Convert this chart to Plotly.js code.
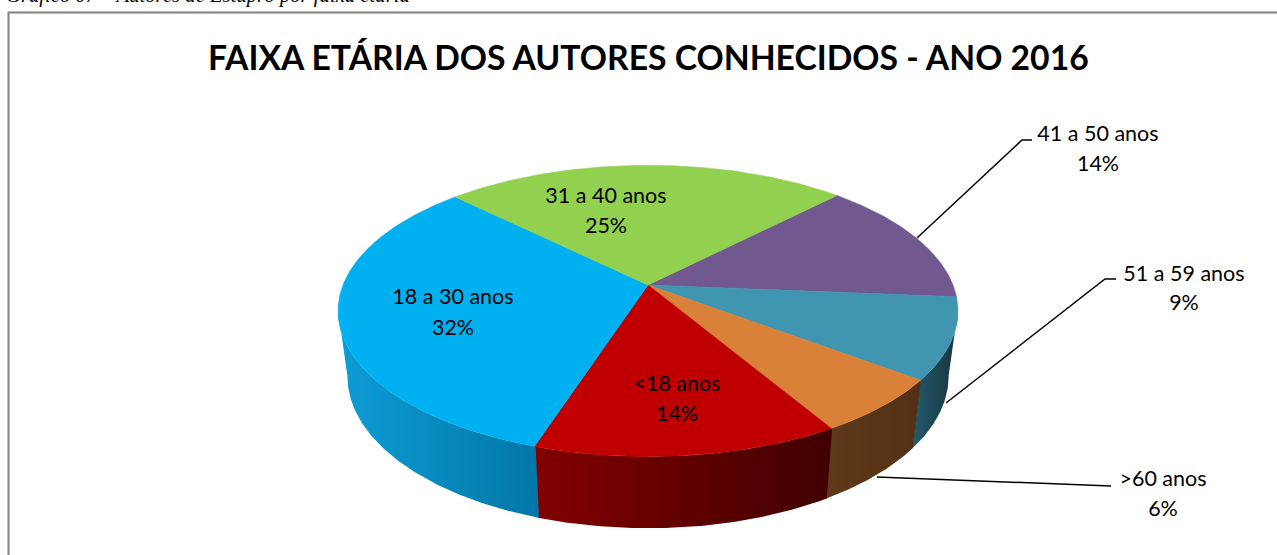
<!DOCTYPE html>
<html>
<head>
<meta charset="utf-8">
<script src="https://cdn.plot.ly/plotly-3.0.1.min.js"></script>
<style>html,body{margin:0;padding:0;background:#fff;overflow:hidden}#chart{width:1277px;height:555px}</style>
</head>
<body>
<div id="chart"></div>
<script>
// Data, clockwise from the purple slice
const categories = ['41 a 50 anos', '51 a 59 anos', '>60 anos', '<18 anos', '18 a 30 anos', '31 a 40 anos'];
const shares = [14, 9, 6.2, 13.5, 32.4, 24.9];
const topColors = ['#71588F', '#4096B0', '#D98039', '#C00000', '#00B0F0', '#92D050'];
const sideStops = [
  ['#553E6E', '#553E6E'], ['#245A6C', '#18343F'], ['#5E3A1A', '#533014'],
  ['#830000', '#400000'], ['#0E9DD6', '#0176A6'], ['#6F9E3C', '#6F9E3C']
];
const percentLabels = shares.map(v => Math.round(v) + '%');
const labelX = [1098, 1184, 1163, 677, 453, 606];
const labelY = [136, 276, 481, 386, 299, 198];
const percentY = [166, 305, 511, 416, 330, 228];

// Perspective view of the disc
const view = {cx: 648, cy: 285, a: 305, b: 141, k: 0.178, start: 44.3};
const base = {dy: 64, sx: 0.97, sy: 1.045};
const visibleFrom = 100, visibleTo = 260;

function rim(deg, bottom) {
  const t = deg * Math.PI / 180, u = Math.sin(t), v = Math.cos(t), w = 1 + view.k * v;
  const sx = bottom ? base.sx : 1, sy = bottom ? base.sy : 1, dy = bottom ? base.dy : 0;
  return [view.cx + sx * view.a * u / w, view.cy + dy - sy * view.b * v / w];
}
function arc(a0, a1, bottom) {
  const n = Math.max(2, Math.ceil(Math.abs(a1 - a0) * 2)), pts = [];
  for (let i = 0; i <= n; i++) pts.push(rim(a0 + (a1 - a0) * i / n, bottom));
  return pts;
}

const total = shares.reduce((s, v) => s + v, 0);
let acc = view.start;
const spans = shares.map(v => { const a0 = acc; acc += v / total * 360; return [a0, acc]; });

const traces = [];
// Outer wall first
spans.forEach((s, i) => {
  const a0 = Math.max(s[0] - 0.2, visibleFrom), a1 = Math.min(s[1], visibleTo);
  if (a1 <= a0) return;
  const pts = arc(a0, a1, false).concat(arc(a1, a0, true));
  pts.push(pts[0]);
  traces.push({
    type: 'scatter', mode: 'lines', x: pts.map(p => p[0]), y: pts.map(p => p[1]),
    fill: 'toself', line: {width: 0, color: sideStops[i][0]}, hoverinfo: 'skip', showlegend: false,
    fillcolor: sideStops[i][0],
    fillgradient: {type: 'horizontal', colorscale: [[0, sideStops[i][0]], [1, sideStops[i][1]]]}
  });
});
// Top face
spans.forEach((s, i) => {
  const pts = [[view.cx, view.cy]].concat(arc(s[0], s[1], false));
  pts.push(pts[0]);
  traces.push({
    type: 'scatter', mode: 'lines', name: categories[i], x: pts.map(p => p[0]), y: pts.map(p => p[1]),
    fill: 'toself', fillcolor: topColors[i], line: {width: 0.6, color: topColors[i]},
    hoverinfo: 'name', showlegend: false
  });
});
// Leader lines
const leaders = [
  [[917, 1022, 1032], [238, 140, 140]],
  [[946, 1105, 1116], [403, 279, 279]],
  [[877, 1111], [477, 486]]
];
leaders.forEach(l => traces.push({
  type: 'scatter', mode: 'lines', x: l[0], y: l[1], line: {color: '#000', width: 1.5},
  hoverinfo: 'skip', showlegend: false
}));
// Labels
const labelFont = {family: 'Lato, sans-serif', size: 21.5, color: '#000'};
traces.push({
  type: 'scatter', mode: 'text', x: labelX, y: labelY, text: categories, textposition: 'middle center',
  textfont: labelFont, hoverinfo: 'skip', showlegend: false, cliponaxis: false
});
traces.push({
  type: 'scatter', mode: 'text', x: labelX, y: percentY, text: percentLabels, textposition: 'middle center',
  textfont: labelFont, hoverinfo: 'skip', showlegend: false, cliponaxis: false
});

const layout = {
  width: 1277, height: 555,
  margin: {l: 0, r: 0, t: 0, b: 0},
  paper_bgcolor: '#fff', plot_bgcolor: '#fff',
  showlegend: false,
  xaxis: {range: [0, 1277], visible: false, fixedrange: true},
  yaxis: {range: [555, 0], visible: false, fixedrange: true},
  shapes: [{type: 'rect', xref: 'x', yref: 'y', x0: 8.5, y0: 12.5, x1: 1300, y1: 600, line: {color: '#808080', width: 2}, layer: 'below'}],
  annotations: [
    {xref: 'x', yref: 'y', x: 648, y: 57, text: 'FAIXA ETÁRIA DOS AUTORES CONHECIDOS - ANO 2016', showarrow: false,
     xanchor: 'center', yanchor: 'middle', font: {family: 'Lato, sans-serif', size: 33.7, color: '#000', weight: 700}},
    {xref: 'x', yref: 'y', x: 4, y: 0, yshift: -9, text: 'Gráfico 07 – Autores de Estupro por faixa etária', showarrow: false,
     xanchor: 'left', yanchor: 'bottom', font: {family: '"Liberation Serif", serif', size: 20.7, color: '#000', style: 'italic'}}
  ]
};
Plotly.newPlot('chart', traces, layout, {displayModeBar: false, staticPlot: true});
</script>
</body>
</html>
